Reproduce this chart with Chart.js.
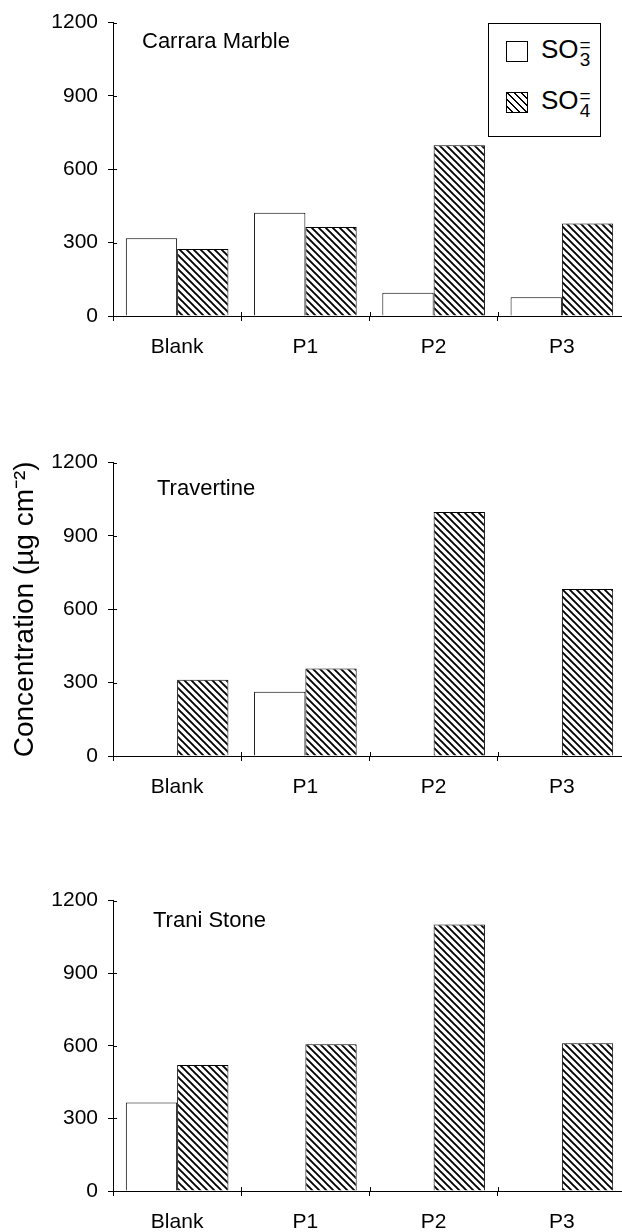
<!DOCTYPE html>
<html>
<head>
<meta charset="utf-8">
<script src="https://cdn.jsdelivr.net/npm/chart.js@4/dist/chart.umd.min.js"></script>
<style>
  body { margin: 0; width: 622px; height: 1232px; overflow: hidden; background: #fff; position: relative; font-family: "Liberation Sans", Arial, sans-serif; }
  canvas { position: absolute; left: 0; }
  #legend { position: absolute; left: 488px; top: 23px; width: 111px; height: 112px; border: 1px solid #000; background: #fff; }
  .item { position: absolute; left: 17px; height: 30px; }
  .swatch { position: absolute; left: 0; top: 0; width: 20px; height: 19px; border: 1px solid #000; background: #fff; }
  .swatch.hatch { background: repeating-linear-gradient(45deg, #fff 0, #fff 3.3px, #000 3.3px, #000 4.9px); }
  .label { position: absolute; left: 35px; top: -7px; font-size: 26px; white-space: nowrap; }
  .stack { display: inline-block; vertical-align: top; font-size: 19px; line-height: 15px; text-align: center; margin-left: 1px; margin-top: 3px; }
</style>
</head>
<body>
<canvas id="c1" width="626" height="360" style="top:0px"></canvas>
<canvas id="c2" width="626" height="360" style="top:440px"></canvas>
<canvas id="c3" width="626" height="354" style="top:878px"></canvas>

<div id="legend">
  <div class="item" style="top:17px"><div class="swatch"></div><div class="label">SO<span class="stack">=<br>3</span></div></div>
  <div class="item" style="top:68px"><div class="swatch hatch"></div><div class="label">SO<span class="stack">=<br>4</span></div></div>
</div>

<script>
// Data (µg cm-2)
const categories = ['Blank', 'P1', 'P2', 'P3'];
const seriesNames = ['SO3=', 'SO4='];

const carraraSO3 = [318, 422, 95, 77];
const carraraSO4 = [274, 364, 698, 378];
const travertineSO3 = [0, 263, 0, 0];
const travertineSO4 = [312, 358, 998, 683];
const traniSO3 = [366, 0, 0, 0];
const traniSO4 = [521, 606, 1101, 611];

const panelTitles = ['Carrara Marble', 'Travertine', 'Trani Stone'];
const yMin = 0;
const yMax = 1200;
const yStep = 300;

const FONT = '"Liberation Sans", Arial, sans-serif';

// diagonal hatch fill for the SO4 bars
function makeHatch() {
  const s = 7;
  const tile = document.createElement('canvas');
  tile.width = s;
  tile.height = s;
  const t = tile.getContext('2d');
  t.fillStyle = '#fff';
  t.fillRect(0, 0, s, s);
  t.strokeStyle = '#000';
  t.lineWidth = 1.9;
  t.beginPath();
  t.moveTo(-1, -1); t.lineTo(s + 1, s + 1);
  t.moveTo(-2, s - 2); t.lineTo(2, s + 2);
  t.moveTo(s - 2, -2); t.lineTo(s + 2, 2);
  t.stroke();
  return t.createPattern(tile, 'repeat');
}
const hatch = makeHatch();

// writes the stone name inside the plot area
const panelLabel = {
  id: 'panelLabel',
  afterDraw(chart, args, opts) {
    const ctx = chart.ctx;
    const area = chart.chartArea;
    ctx.save();
    ctx.font = '22px ' + FONT;
    ctx.fillStyle = '#000';
    ctx.textBaseline = 'middle';
    ctx.fillText(opts.text, area.left + opts.dx, area.top + opts.dy);
    ctx.restore();
  }
};

// the original ticks cross the axis, so add the short inner half
const innerTicks = {
  id: 'innerTicks',
  afterDraw(chart) {
    const ctx = chart.ctx;
    const x = chart.scales.x;
    const y = chart.scales.y;
    const len = 4;
    ctx.save();
    ctx.strokeStyle = '#000';
    ctx.lineWidth = 1;
    ctx.beginPath();
    y.ticks.forEach(function(t) {
      const py = Math.round(y.getPixelForValue(t.value)) + 0.5;
      ctx.moveTo(y.right, py);
      ctx.lineTo(y.right + len, py);
    });
    const n = categories.length;
    for (let i = 1; i < n; i++) {
      const px = Math.round((x.getPixelForTick(i - 1) + x.getPixelForTick(i)) / 2) + 0.5;
      ctx.moveTo(px, x.top);
      ctx.lineTo(px, x.top - len);
    }
    ctx.stroke();
    ctx.restore();
  }
};

function makeChart(id, so3, so4, title, dx, dy, xHeight, showYTitle) {
  return new Chart(document.getElementById(id), {
    type: 'bar',
    data: {
      labels: categories,
      datasets: [{
        label: seriesNames[0],
        data: so3,
        backgroundColor: '#fff',
        borderColor: '#000',
        borderWidth: 1
      }, {
        label: seriesNames[1],
        data: so4,
        backgroundColor: hatch,
        borderColor: '#000',
        borderWidth: 1
      }]
    },
    options: {
      responsive: false,
      animation: false,
      layout: { padding: { top: 15, right: 0, bottom: 0, left: 0 } },
      datasets: { bar: { categoryPercentage: 0.8, barPercentage: 1.0 } },
      scales: {
        x: {
          grid: { display: true, drawOnChartArea: false, drawTicks: true, tickLength: 5, color: '#000', offset: true },
          border: { display: true, color: '#000', width: 1 },
          ticks: { color: '#000', font: { family: FONT, size: 21 }, padding: 14, maxRotation: 0 },
          afterFit: function(scale) { scale.height = xHeight; }
        },
        y: {
          min: yMin,
          max: yMax,
          grid: { display: true, drawOnChartArea: false, drawTicks: true, tickLength: 5, color: '#000' },
          border: { display: true, color: '#000', width: 1 },
          ticks: {
            stepSize: yStep,
            color: '#000',
            font: { family: FONT, size: 21 },
            padding: 10,
            callback: function(value) { return String(value); }
          },
          title: {
            display: showYTitle,
            text: 'Concentration (µg cm⁻²)',
            color: '#000',
            font: { family: FONT, size: 28 },
            padding: { top: 8, bottom: 0 }
          },
          afterFit: function(scale) { scale.width = 113; }
        }
      },
      plugins: {
        legend: { display: false },
        tooltip: { enabled: false },
        panelLabel: { text: title, dx: dx, dy: dy }
      }
    },
    plugins: [panelLabel, innerTicks]
  });
}

makeChart('c1', carraraSO3, carraraSO4, panelTitles[0], 29, 19, 44, false);
makeChart('c2', travertineSO3, travertineSO4, panelTitles[1], 44, 26, 44, true);
makeChart('c3', traniSO3, traniSO4, panelTitles[2], 40, 20, 41, false);
</script>
</body>
</html>
